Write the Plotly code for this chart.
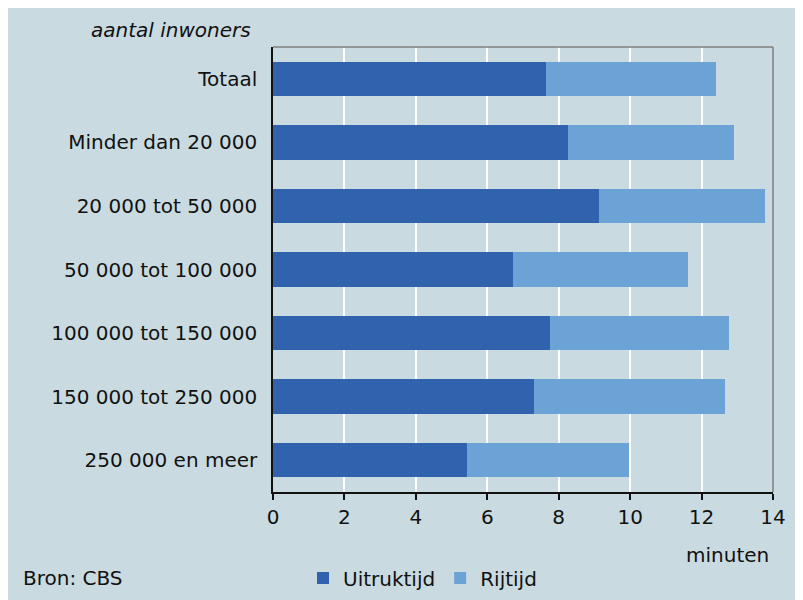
import plotly.graph_objects as go

categories = ["Totaal", "Minder dan 20 000", "20 000 tot 50 000", "50 000 tot 100 000",
              "100 000 tot 150 000", "150 000 tot 250 000", "250 000 en meer"]
uitruktijd = [7.65, 8.27, 9.12, 6.72, 7.76, 7.30, 5.43]
totaal = [12.41, 12.92, 13.78, 11.62, 12.76, 12.65, 9.97]
rijtijd = [round(t - u, 2) for t, u in zip(totaal, uitruktijd)]
xticks = [0, 2, 4, 6, 8, 10, 12, 14]

BG = "#c9dbe0"
DARK = "#3062ae"
LIGHT = "#6ca3d7"
FONT = "DejaVu Sans"
FS = 20

OFF = 8  # page body margin
W, H = 803, 600
L, R, T, B = 273 - OFF, 803 - (773 - OFF), 47 - OFF, 600 - (492 - OFF)
pw, ph = W - L - R, H - T - B

def px_x(px):
    return (px - OFF - L) / pw

def px_y(py):
    return 1 - (py - OFF - T) / ph

fig = go.Figure()
fig.add_trace(go.Bar(y=categories, x=uitruktijd, name="Uitruktijd", orientation="h",
                     marker=dict(color=DARK, line=dict(width=0))))
fig.add_trace(go.Bar(y=categories, x=rijtijd, name="Rijtijd", orientation="h",
                     marker=dict(color=LIGHT, line=dict(width=0))))

fig.update_layout(
    width=W, height=H,
    margin=dict(l=L, r=R, t=T, b=B, autoexpand=False),
    barmode="stack", bargap=0.46,
    paper_bgcolor=BG, plot_bgcolor=BG,
    font=dict(family=FONT, size=FS, color="#111111"),
    xaxis=dict(range=[0, 14], tickvals=xticks, ticktext=[str(v) for v in xticks],
               ticks="outside", ticklen=6, tickwidth=1.5, tickcolor="#111111",
               showline=True, linecolor="#111111", linewidth=1.5,
               showgrid=True, gridcolor="white", gridwidth=2, zeroline=False,
               fixedrange=True),
    yaxis=dict(categoryorder="array", categoryarray=categories, autorange="reversed",
               ticks="", showline=True, linecolor="#111111", linewidth=1.5,
               showgrid=False, ticklabelstandoff=10),
    legend=dict(orientation="h", x=px_x(303), y=px_y(578), xanchor="left", yanchor="middle",
                bgcolor="rgba(0,0,0,0)", font=dict(size=FS), traceorder="normal",
                itemwidth=30, tracegroupgap=0),
    showlegend=True,
)

# grey frame at top and right
fig.add_shape(type="line", xref="paper", yref="paper", x0=0, x1=1, y0=1, y1=1,
              line=dict(color="#7f7f7f", width=1.5))
fig.add_shape(type="line", xref="paper", yref="paper", x0=1, x1=1, y0=0, y1=1,
              line=dict(color="#7f7f7f", width=1.5))

fig.add_annotation(text="aantal inwoners", xref="paper", yref="paper",
                   x=px_x(253), y=px_y(30), xanchor="right", yanchor="middle",
                   showarrow=False, font=dict(family=FONT, size=FS, style="italic"))
fig.add_annotation(text="minuten", xref="paper", yref="paper",
                   x=px_x(771), y=px_y(555), xanchor="right", yanchor="middle",
                   showarrow=False, font=dict(family=FONT, size=FS))
fig.add_annotation(text="Bron: CBS", xref="paper", yref="paper",
                   x=px_x(21), y=px_y(578), xanchor="left", yanchor="middle",
                   showarrow=False, font=dict(family=FONT, size=FS))

fig.write_html("out.html")
